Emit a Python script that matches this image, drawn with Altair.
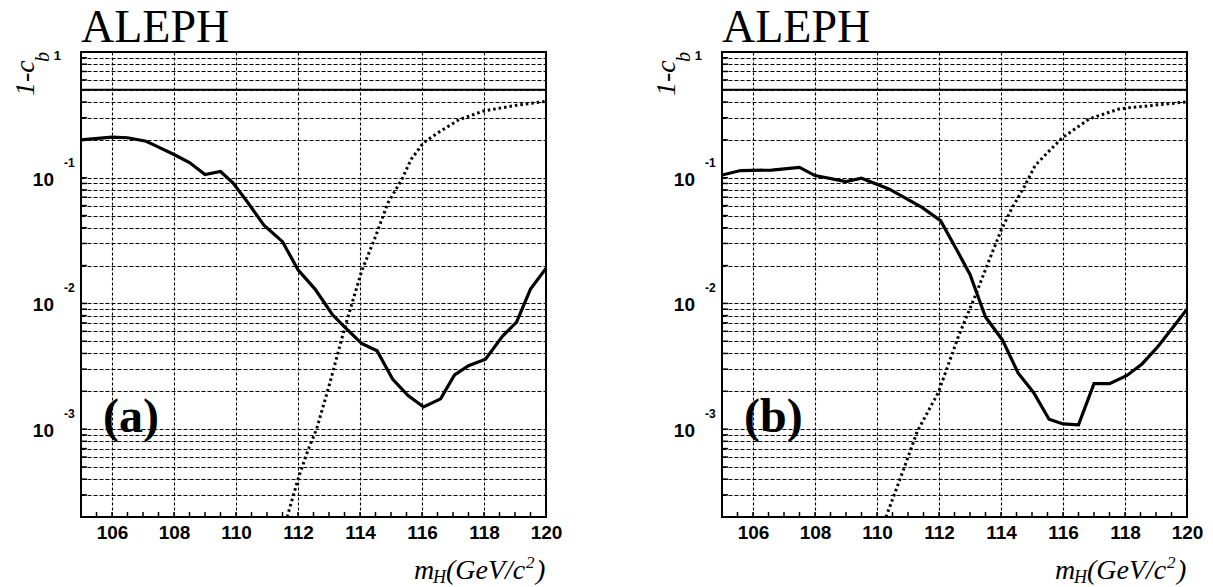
import altair as alt
import pandas as pd

# ---------------- data ----------------
# panel (a): observed 1-c_b (solid) and expected (dotted)
a_solid_x = [105.0, 106.0, 106.5, 107.1, 107.4, 108.0, 108.5, 109.0, 109.5, 109.9, 110.35, 110.9,
             111.5, 112.0, 112.55, 113.1, 113.5, 114.05, 114.55, 115.05, 115.55, 116.05, 116.6,
             117.05, 117.5, 118.05, 118.6, 119.05, 119.5, 120.0]
a_solid_y = [0.20, 0.21, 0.208, 0.195, 0.18, 0.153, 0.132, 0.106, 0.112, 0.091, 0.065, 0.042,
             0.031, 0.0185, 0.013, 0.0082, 0.0065, 0.0048, 0.0042, 0.0025, 0.00185, 0.0015, 0.00174,
             0.0027, 0.0032, 0.0036, 0.0055, 0.0071, 0.013, 0.019]
a_dot_x = [111.65, 112.0, 112.33, 112.6, 113.0, 113.5, 114.05, 114.5, 114.9, 115.35, 115.65,
           116.05, 116.6, 117.2, 118.0, 119.0, 120.0]
a_dot_y = [2.0e-4, 4.0e-4, 6.9e-4, 1.0e-3, 2.2e-3, 6.3e-3, 0.018, 0.034, 0.063, 0.097, 0.14,
           0.19, 0.235, 0.29, 0.34, 0.375, 0.405]

# panel (b)
b_solid_x = [105.0, 105.6, 106.6, 107.5, 108.0, 109.0, 109.5, 110.4, 111.45, 112.05, 112.5, 113.0,
             113.5, 114.05, 114.55, 115.05, 115.55, 116.0, 116.5, 117.0, 117.5, 118.05, 118.55,
             119.05, 119.6, 120.0]
b_solid_y = [0.105, 0.114, 0.115, 0.121, 0.104, 0.093, 0.099, 0.081, 0.058, 0.0455, 0.0288, 0.017,
             0.0078, 0.0051, 0.0028, 0.00196, 0.0012, 0.0011, 0.00108, 0.0023, 0.0023, 0.00266,
             0.0033, 0.0045, 0.0067, 0.009]
b_dot_x = [110.29, 110.86, 111.3, 111.98, 112.63, 113.17, 113.59, 114.02, 114.34, 114.77, 115.1,
           115.54, 115.98, 116.85, 117.84, 118.94, 120.0]
b_dot_y = [2.0e-4, 4.8e-4, 9.6e-4, 0.00196, 0.0055, 0.0115, 0.0212, 0.039, 0.0564, 0.0864, 0.125,
           0.162, 0.208, 0.294, 0.354, 0.377, 0.401]

# axis / label text
x_label_values = [106, 108, 110, 112, 114, 116, 118, 120]
y_decade_values = [0.1, 0.01, 0.001]
y_decade_base = ["10", "10", "10"]
y_decade_exp = ["-1", "-2", "-3"]
y_top_value = [1.0]
y_top_text = ["1"]
reference_level = [0.5]
panel_tags = ["(a)", "(b)"]
experiment = "ALEPH"

# ---------------- layout constants ----------------
W, H = 465, 465
X_DOMAIN = [105, 120]
Y_DOMAIN = [2e-4, 1]
x_minor = [105 + 0.5 * i for i in range(1, 30)]
y_grid = [m * 10.0 ** k for k in range(-4, 1) for m in range(1, 10)
          if Y_DOMAIN[0] * 0.999 <= m * 10.0 ** k <= 1.0001]

SERIF = "Liberation Serif"
SANS = "Liberation Sans"


def one(text):
    return pd.DataFrame({"t": [text]})


def panel(sx, sy, dx, dy, tag):
    xs = alt.Scale(domain=X_DOMAIN, nice=False, zero=False)
    ys = alt.Scale(type="log", domain=Y_DOMAIN, nice=False)
    xaxis = alt.Axis(values=x_label_values, grid=True, gridColor="black", gridDash=[3, 2],
                     gridWidth=1.1, gridOpacity=1, ticks=False, domain=False,
                     labelFont=SANS, labelFontSize=19, labelFontWeight="bold",
                     labelColor="black", labelPadding=6, labelFlush=False, title=None)
    yaxis = alt.Axis(values=y_grid, grid=True, gridColor="black", gridDash=[4, 2],
                     gridWidth=1.1, gridOpacity=1, ticks=False, domain=False,
                     labels=False, title=None)

    def X(f):
        return alt.X(f, scale=xs, axis=xaxis)

    def Y(f):
        return alt.Y(f, scale=ys, axis=yaxis)

    solid = alt.Chart(pd.DataFrame({"m": sx, "v": sy})).mark_line(
        color="black", strokeWidth=3.2, clip=True).encode(x=X("m:Q"), y=Y("v:Q"))

    dotted = alt.Chart(pd.DataFrame({"m": dx, "v": dy})).mark_line(
        color="black", strokeWidth=3, strokeDash=[2.5, 3], clip=True).encode(
        x=X("m:Q"), y=Y("v:Q"))

    ref = alt.Chart(pd.DataFrame({"v": reference_level})).mark_rule(
        color="black", strokeWidth=2).encode(y=Y("v:Q"))

    xt = alt.Chart(pd.DataFrame({"m": x_minor})).mark_rule(
        color="black", strokeWidth=1.5).encode(
        x=X("m:Q"), y=alt.value(H), y2=alt.value(H - 5))

    yt = alt.Chart(pd.DataFrame({"v": y_grid})).mark_rule(
        color="black", strokeWidth=1.5).encode(
        y=Y("v:Q"), x=alt.value(0), x2=alt.value(6))

    lab = pd.DataFrame({"v": y_decade_values, "b": y_decade_base, "e": y_decade_exp})
    ybase = alt.Chart(lab).mark_text(
        align="right", baseline="middle", font=SANS, fontSize=19, fontWeight="bold",
        color="black", dy=2).encode(x=alt.value(-27), y=Y("v:Q"), text="b:N")
    yexp = alt.Chart(lab).mark_text(
        align="left", baseline="middle", font=SANS, fontSize=12, fontWeight="bold",
        color="black", dy=-15).encode(x=alt.value(-17), y=Y("v:Q"), text="e:N")
    ytop = alt.Chart(pd.DataFrame({"v": y_top_value, "t": y_top_text})).mark_text(
        align="right", baseline="middle", font=SANS, fontSize=13, fontWeight="bold",
        color="black", dy=4).encode(x=alt.value(-20), y=Y("v:Q"), text="t:N")

    title = alt.Chart(one(experiment)).mark_text(
        align="left", baseline="alphabetic", font=SERIF, fontSize=46, color="black").encode(
        x=alt.value(0), y=alt.value(-10), text="t:N")

    tagm = alt.Chart(one(tag)).mark_text(
        align="left", baseline="alphabetic", font=SERIF, fontSize=48, fontWeight="bold",
        color="black").encode(x=alt.value(22), y=alt.value(380), text="t:N")

    ytit1 = alt.Chart(one("1-c")).mark_text(
        angle=270, align="left", baseline="alphabetic", font=SERIF, fontStyle="italic",
        fontSize=28, color="black").encode(x=alt.value(-47), y=alt.value(44), text="t:N")
    ytit2 = alt.Chart(one("b")).mark_text(
        angle=270, align="left", baseline="alphabetic", font=SERIF, fontStyle="italic",
        fontSize=20, color="black").encode(x=alt.value(-32), y=alt.value(10), text="t:N")

    base_y = H + 62
    xt1 = alt.Chart(one("m")).mark_text(
        align="left", baseline="alphabetic", font=SERIF, fontStyle="italic", fontSize=28,
        color="black").encode(x=alt.value(333), y=alt.value(base_y), text="t:N")
    xt2 = alt.Chart(one("H")).mark_text(
        align="left", baseline="alphabetic", font=SERIF, fontStyle="italic", fontSize=18,
        color="black").encode(x=alt.value(352), y=alt.value(base_y + 4), text="t:N")
    xt3 = alt.Chart(one("(GeV/c")).mark_text(
        align="left", baseline="alphabetic", font=SERIF, fontStyle="italic", fontSize=28,
        color="black").encode(x=alt.value(365), y=alt.value(base_y), text="t:N")
    xt4 = alt.Chart(one("2")).mark_text(
        align="left", baseline="alphabetic", font=SERIF, fontStyle="italic", fontSize=17,
        color="black").encode(x=alt.value(445), y=alt.value(base_y - 11), text="t:N")
    xt5 = alt.Chart(one(")")).mark_text(
        align="left", baseline="alphabetic", font=SERIF, fontStyle="italic", fontSize=28,
        color="black").encode(x=alt.value(455), y=alt.value(base_y), text="t:N")

    return alt.layer(solid, dotted, ref, xt, yt, ybase, yexp, ytop, title, tagm,
                     ytit1, ytit2, xt1, xt2, xt3, xt4, xt5).properties(width=W, height=H)


chart = alt.hconcat(
    panel(a_solid_x, a_solid_y, a_dot_x, a_dot_y, panel_tags[0]),
    panel(b_solid_x, b_solid_y, b_dot_x, b_dot_y, panel_tags[1]),
    spacing=89,
).properties(
    padding={"left": 11, "top": 4, "right": 0, "bottom": 0},
    background="white",
).configure_view(stroke="black", strokeWidth=2)

chart.save("out.html", embed_options={"renderer": "svg", "actions": False})
